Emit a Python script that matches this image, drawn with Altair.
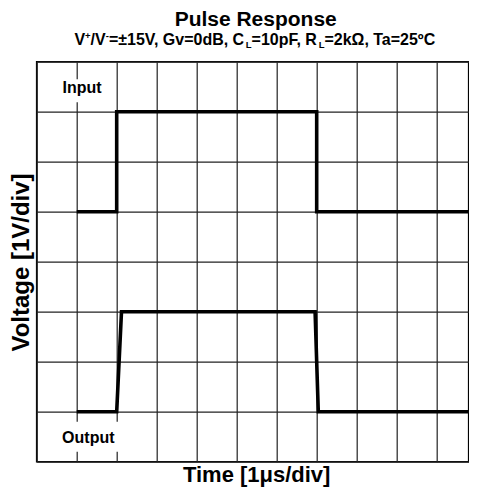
import altair as alt
import pandas as pd

# ---- data ----
input_t = [1, 2, 2, 7, 7, 11]
input_v = [5, 5, 7, 7, 5, 5]
output_t = [1, 2.0, 2.12, 6.96, 7.04, 11]
output_v = [1, 1, 3, 3, 1, 1]
x_grid = list(range(12))
y_grid = list(range(9))

title_text = "Pulse Response"
subtitle_parts = [("V", "main"), ("+", "sup"), ("/V", "main"), ("-", "sup"),
                  ("=±15V, Gv=0dB, C", "main"), ("L", "sub"), ("=10pF, R", "main"),
                  ("L", "sub"), ("=2kΩ, Ta=25ºC", "main")]
x_title = "Time [1μs/div]"
y_title = "Voltage [1V/div]"
label_in = "Input"
label_out = "Output"

df = pd.DataFrame({
    "t": input_t + output_t,
    "v": input_v + output_v,
    "series": ["Input"] * len(input_t) + ["Output"] * len(output_t),
    "idx": list(range(len(input_t) + len(output_t))),
})

W, H = 432, 400
FONT = "Liberation Sans"
one = pd.DataFrame({"a": [0]})

xs = alt.Scale(domain=[0, 10.8], nice=False, zero=False)
ys = alt.Scale(domain=[0, 8], nice=False, zero=False)
ax = dict(grid=True, labels=False, ticks=False, domain=False, title=None,
          gridColor="#222222", gridWidth=1.2, gridOpacity=1)

lines = alt.Chart(df).mark_line(color="black", strokeWidth=3.6, strokeJoin="miter",
                                clip=True).encode(
    x=alt.X("t:Q", scale=xs, axis=alt.Axis(values=x_grid[:-1], **ax)),
    y=alt.Y("v:Q", scale=ys, axis=alt.Axis(values=y_grid, **ax)),
    detail="series:N",
    order="idx:Q",
)

def box(x1, x2, y1, y2):
    return alt.Chart(one).mark_rect(fill="white", strokeWidth=0).encode(
        x=alt.value(x1), x2=alt.value(x2), y=alt.value(y1), y2=alt.value(y2))

def txt(s, x, y, size, align="center", angle=0):
    return alt.Chart(one).mark_text(
        text=s, font=FONT, fontWeight="bold", fontSize=size, align=align,
        baseline="alphabetic", angle=angle, color="black").encode(
        x=alt.value(x), y=alt.value(y))

# Arial/Liberation Sans Bold advance widths (per 1000 em)
WID = {'V': 667, '+': 584, '/': 278, '-': 333, '=': 584, '±': 549, '1': 556, '5': 556,
       ',': 278, ' ': 278, 'G': 778, 'v': 556, '0': 556, 'd': 611, 'B': 722, 'C': 722,
       'L': 611, 'p': 611, 'F': 611, 'R': 722, '2': 556, 'k': 556, 'Ω': 768, 'T': 611,
       'a': 556, 'º': 365}
MAIN, SMALL = 16, 9.5
def seg_w(s, size):
    return sum(WID.get(c, 556) for c in s) * size / 1000.0

total = sum(seg_w(s, MAIN if k == "main" else SMALL) for s, k in subtitle_parts)
cx = 218.5
base_y = -16.7
cur = cx - total / 2
sub_layers = []
for s, k in subtitle_parts:
    size = MAIN if k == "main" else SMALL
    dy = 0 if k == "main" else (-6 if k == "sup" else 3)
    sub_layers.append(txt(s, cur, base_y + dy, size, align="left"))
    cur += seg_w(s, size)

layers = [
    box(18, 72, 17.5, 40.5),
    box(20, 84, 360, 390),
    lines,
    txt(label_in, 45.3, 31.6, 16),
    txt(label_out, 51.6, 381.3, 16),
    txt(title_text, 219, -35.4, 21),
    txt(x_title, 220, 420.8, 22),
    txt(y_title, -7.7, 200.8, 24, angle=270),
] + sub_layers

chart = alt.layer(*layers).properties(
    width=W, height=H,
    autosize=alt.AutoSizeParams(type="none"),
    padding={"left": 28.7, "top": 53.7, "right": 0, "bottom": 25},
).configure_view(stroke="black", strokeWidth=1.6)

chart.save("out.html", embed_options={"renderer": "svg", "actions": False})
